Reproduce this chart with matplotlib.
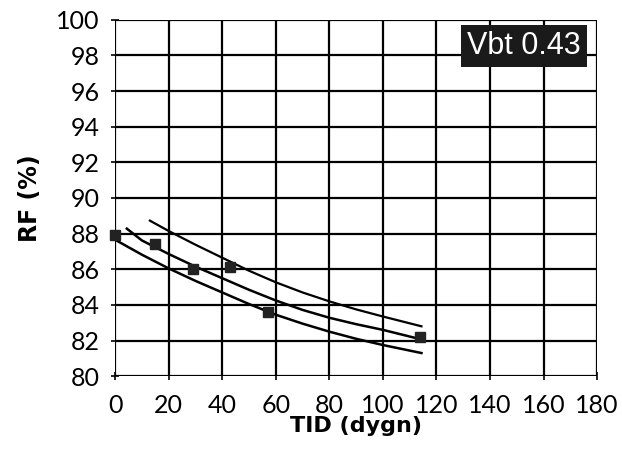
import matplotlib
matplotlib.use("Agg")
import matplotlib.pyplot as plt

# measured points
tid = [0, 15, 29, 43, 57, 114]
rf = [87.9, 87.4, 86.0, 86.1, 83.6, 82.2]

# fitted curve and bounds
fit_x = [4.4, 10, 20, 30, 40, 50, 60, 70, 80, 90, 100, 113.4]
fit_y = [88.28, 87.62, 86.86, 86.15, 85.5, 84.85, 84.25, 83.72, 83.28, 82.92, 82.6, 82.1]

upper_x = [13, 20, 30, 40, 50, 60, 70, 80, 90, 100, 114.4]
upper_y = [88.73, 88.15, 87.38, 86.65, 85.92, 85.27, 84.7, 84.2, 83.75, 83.35, 82.8]

lower_x = [0, 10, 20, 30, 40, 50, 60, 70, 80, 90, 100, 114.4]
lower_y = [87.66, 86.82, 86.05, 85.35, 84.7, 84.05, 83.45, 82.95, 82.5, 82.1, 81.75, 81.3]

x_ticks = list(range(0, 181, 20))
y_ticks = list(range(80, 101, 2))

label_text = "Vbt 0.43"

plt.rcParams["font.family"] = ["Lato", "DejaVu Sans"]

fig = plt.figure(figsize=(6.22, 4.5), dpi=100)
ax = fig.add_axes([0.185, 0.164, 0.775, 0.792])

ax.plot(fit_x, fit_y, color="black", lw=1.8, zorder=3)
ax.plot(upper_x, upper_y, color="black", lw=1.6, zorder=3)
ax.plot(lower_x, lower_y, color="black", lw=1.8, zorder=3)
ax.plot(tid, rf, linestyle="none", marker="s", markersize=7,
        color="#222222", zorder=4, clip_on=False)

ax.set_xlim(0, 180)
ax.set_ylim(80, 100)
ax.set_xticks(x_ticks)
ax.set_yticks(y_ticks)
ax.grid(True, color="black", lw=1.6)
ax.set_axisbelow(True)
for side in ["left", "bottom", "top", "right"]:
    ax.spines[side].set_visible(False)
ax.tick_params(direction="inout", length=6, width=1.2, labelsize=18)
ax.tick_params(axis="x", pad=10)
ax.tick_params(axis="y", pad=8)

ax.set_xlabel("TID (dygn)", fontsize=16, fontweight="bold", labelpad=-1,
              family=["DejaVu Sans"])
ax.set_ylabel("RF (%)", fontsize=17, fontweight="bold", labelpad=10,
              family=["DejaVu Sans"])

ax.text(0.967, 0.968, label_text, transform=ax.transAxes, ha="right", va="top",
        fontsize=22, color="white", family=["Liberation Sans", "DejaVu Sans"],
        bbox=dict(boxstyle="square,pad=0.2", facecolor="#1a1a1a", edgecolor="none"),
        zorder=5)

fig.savefig("out.png", dpi=100, facecolor="white")
